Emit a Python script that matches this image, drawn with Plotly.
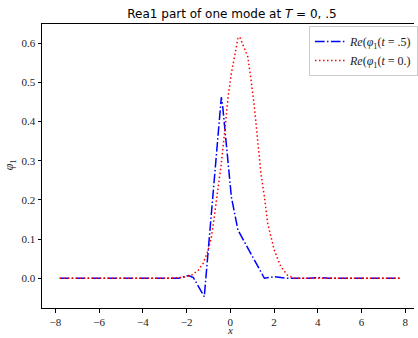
import plotly.graph_objects as go

# Re(phi_1(t=.5)) - blue dash-dot
x_half = [-7.8, -3.0, -2.37, -1.91, -1.69, -1.19, -0.41, -0.35, 0.05, 0.35, 1.56, 2.01, 2.61, 3.6, 4.0, 4.5, 7.8]
y_half = [0.0, 0.0, 0.0, 0.007, 0.002, -0.047, 0.462, 0.44, 0.207, 0.123, 0.0, 0.004, 0.0, 0.0, 0.002, 0.0, 0.0]

# Re(phi_1(t=0.)) - red dotted
x_zero = [-7.8, -3.0, -2.2, -1.76, -1.46, -1.24, -1.01, -0.86, -0.71, -0.56, -0.41, -0.25, -0.10,
          0.05, 0.20, 0.35, 0.43, 0.65, 0.80, 0.95, 1.10, 1.25, 1.40, 1.56, 1.71, 2.01, 2.31, 2.61, 2.91, 7.8]
y_zero = [0.0, 0.0, 0.002, 0.008, 0.021, 0.038, 0.072, 0.106, 0.166, 0.225, 0.293, 0.378, 0.463,
          0.523, 0.565, 0.612, 0.616, 0.587, 0.565, 0.506, 0.438, 0.353, 0.268, 0.208, 0.14, 0.072, 0.03, 0.008, 0.0, 0.0]

x_ticks = [-8, -6, -4, -2, 0, 2, 4, 6, 8]
y_ticks = [0.0, 0.1, 0.2, 0.3, 0.4, 0.5, 0.6]

fig = go.Figure()
fig.add_trace(go.Scatter(
    x=x_half, y=y_half, mode="lines",
    line=dict(color="#0000ff", width=1.5, dash="9.6px,2.4px,1.5px,2.4px"),
    name="<i>Re</i>(<i>φ</i><sub>1</sub>(<i>t</i> = .5)",
))
fig.add_trace(go.Scatter(
    x=x_zero, y=y_zero, mode="lines",
    line=dict(color="#ff0000", width=1.5, dash="1.5px,2.5px"),
    name="<i>Re</i>(<i>φ</i><sub>1</sub>(<i>t</i> = 0.)",
))

tickfont = dict(family="Liberation Serif, DejaVu Serif, serif", size=11, color="#222")
PW, PH = 376, 284  # plot area size in px

fig.update_layout(
    width=418, height=338,
    margin=dict(l=42, r=0, t=24, b=30),
    paper_bgcolor="white", plot_bgcolor="white",
    title=dict(
        text="Rea1 part of one mode at <i>T</i> = 0, .5",
        x=(232 / 418), xanchor="center", y=1 - 14 / 338, yanchor="middle",
        font=dict(family="DejaVu Sans, sans-serif", size=12, color="black"),
    ),
    showlegend=True,
    legend=dict(
        x=(312 - 42) / PW, y=(308 - 26) / PH, xanchor="left", yanchor="top",
        bgcolor="rgba(255,255,255,0.8)", bordercolor="#cccccc", borderwidth=1,
        font=dict(family="Liberation Serif, DejaVu Serif, serif", size=12, color="#222"),
        itemwidth=30, tracegroupgap=0,
    ),
    xaxis=dict(
        range=[-8.61, 8.40], tickvals=x_ticks, ticktext=[("−" + str(-v)) if v < 0 else str(v) for v in x_ticks],
        showgrid=False, zeroline=False, automargin=False,
        showline=True, linecolor="black", linewidth=1, mirror=True,
        ticks="outside", ticklen=3.5, tickcolor="black", tickfont=tickfont,
    ),
    yaxis=dict(
        range=[-0.0758, 0.6487], tickvals=y_ticks, ticktext=["%.1f" % v for v in y_ticks],
        showgrid=False, zeroline=False, automargin=False,
        showline=True, linecolor="black", linewidth=1, mirror=False,
        ticks="outside", ticklen=3.5, tickcolor="black", tickfont=tickfont,
    ),
    annotations=[
        dict(text="<i>x</i>", xref="paper", yref="paper",
             x=(232 - 42) / PW, y=-(337 - 308) / PH, xanchor="center", yanchor="bottom",
             borderpad=0, showarrow=False,
             font=dict(family="Liberation Serif, serif", size=11, color="#222")),
        dict(text="<i>φ</i><sub>1</sub>", xref="paper", yref="paper", textangle=-90,
             x=-(42 - 10) / PW, y=(308 - 165) / PH, xanchor="center", yanchor="middle",
             borderpad=0, showarrow=False,
             font=dict(family="Liberation Serif, serif", size=12, color="#222")),
    ],
)

fig.write_html("out.html")
